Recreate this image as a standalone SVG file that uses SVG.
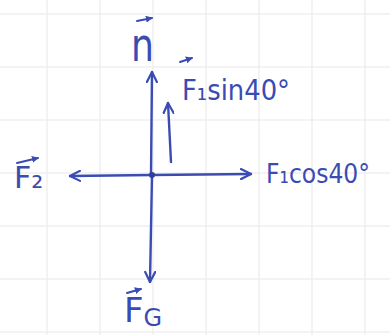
<svg xmlns="http://www.w3.org/2000/svg" width="390" height="335" viewBox="0 0 390 335">
<style>
.grid{stroke:#efefef;stroke-width:1.5;fill:none}
.ink{stroke:#3a4cb2;stroke-width:2.4;fill:none;stroke-linecap:round;stroke-linejoin:round}
.lbl{font-family:"DejaVu Sans","Liberation Sans",sans-serif;fill:#3a4cb2}
.vec{stroke:#3a4cb2;stroke-width:2;fill:none;stroke-linecap:round}
</style>
<defs>
<marker id="open" viewBox="0 0 12 12" refX="11" refY="6" markerWidth="12" markerHeight="12" markerUnits="userSpaceOnUse" orient="auto">
<path d="M1,1 L11,6 L1,11" fill="none" stroke="#3a4cb2" stroke-width="2.2" stroke-linecap="round" stroke-linejoin="round"/>
</marker>
<marker id="small" viewBox="0 0 8 8" refX="7" refY="4" markerWidth="7" markerHeight="7" markerUnits="userSpaceOnUse" orient="auto">
<path d="M0,0 L8,4 L0,8 Z" fill="#3a4cb2"/>
</marker>
</defs>
<rect width="390" height="335" fill="#ffffff"/>
<g id="grid">
<path class="grid" d="M0,14 H390 M0,67 H390 M0,120 H390 M0,173 H390 M0,226 H390 M0,279 H390 M0,332 H390 M47,0 V335 M100,0 V335 M153,0 V335 M206,0 V335 M259,0 V335 M312,0 V335 M365,0 V335"/>
</g>
<g id="connectors">
<path class="ink" d="M151,175 L152,72" marker-end="url(#open)"/>
<path class="ink" d="M152,175 L150,282" marker-end="url(#open)"/>
<path class="ink" d="M152,175 L70,176" marker-end="url(#open)" stroke="#3f62bf"/>
<path class="ink" d="M152,175 L251,174" marker-end="url(#open)" stroke="#3f62bf"/>
<path class="ink" d="M171,162 L168,103" marker-end="url(#open)"/>
<circle cx="152" cy="175" r="3" fill="#2f3e9a"/>
</g>
<g id="n">
<text class="lbl" x="131" y="61" font-size="46" textLength="23" lengthAdjust="spacingAndGlyphs">n</text>
<path class="vec" d="M137,21 L152,18" marker-end="url(#small)"/>
</g>
<g id="F1sin">
<text class="lbl" x="182" y="100" font-size="28" textLength="108" lengthAdjust="spacingAndGlyphs">F₁sin40°</text>
<path class="vec" d="M180,62 L192,58" marker-end="url(#small)"/>
</g>
<g id="F1cos">
<text class="lbl" x="266" y="183" font-size="27" textLength="104" lengthAdjust="spacingAndGlyphs">F₁cos40°</text>
</g>
<g id="F2">
<text class="lbl" x="14" y="188" font-size="30">F₂</text>
<path class="vec" d="M17,163 L38,158" marker-end="url(#small)"/>
</g>
<g id="FG">
<text class="lbl" x="124" y="322" font-size="34">F<tspan font-size="24" dy="4">G</tspan></text>
<path class="vec" d="M127,293 L141,289" marker-end="url(#small)"/>
</g>
</svg>
